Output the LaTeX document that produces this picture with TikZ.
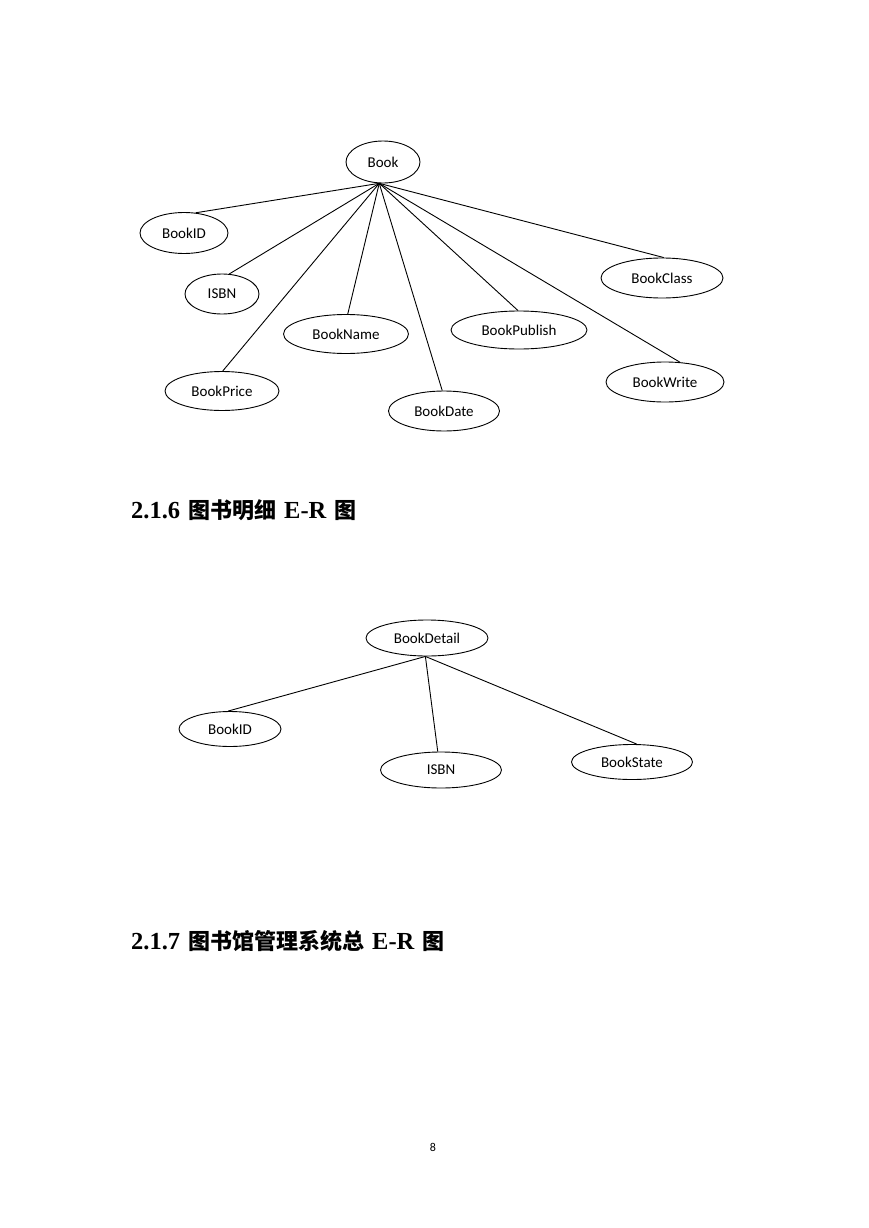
\documentclass[tikz,border=0pt]{standalone}
\usepackage{fontspec}
\setmainfont{Liberation Serif}
\newfontfamily\lbl{Carlito}
\newfontfamily\cjk{Noto Sans CJK SC}
\usetikzlibrary{shapes.geometric}
\newcommand{\cjkpart}[1]{{\cjk\bfseries\fontsize{22}{26}\selectfont #1}}
\newcommand{\gap}{\hspace{8pt}}
\tikzset{
  attr/.style={ellipse, draw, line width=0.9pt, inner sep=0pt, font=\lbl\fontsize{15}{17}\selectfont},
  link/.style={draw, line width=0.9pt},
  heading/.style={anchor=west, inner sep=0pt, font=\fontsize{24.5}{28}\selectfont\bfseries}
}
\begin{document}
\begin{tikzpicture}[x=1pt,y=-1pt]
\useasboundingbox (0,0) rectangle (869,1228);
\fill[white] (0,0) rectangle (869,1228);
% First diagram: Book
\node[attr, minimum width=74, minimum height=42] (book) at (383,162) {Book};
\node[attr, minimum width=88, minimum height=41] (bookid) at (184,233) {BookID};
\node[attr, minimum width=74, minimum height=40] (isbn) at (222,294) {ISBN};
\node[attr, minimum width=125, minimum height=39] (bookname) at (346,334) {BookName};
\node[attr, minimum width=114, minimum height=39] (bookprice) at (222,391) {BookPrice};
\node[attr, minimum width=111, minimum height=40] (bookdate) at (444,411) {BookDate};
\node[attr, minimum width=136, minimum height=38] (bookpublish) at (519,330) {BookPublish};
\node[attr, minimum width=118, minimum height=40] (bookwrite) at (665,382) {BookWrite};
\node[attr, minimum width=122, minimum height=40] (bookclass) at (662,278) {BookClass};
\coordinate (hub) at (book.260);
\draw[link] (hub) -- (bookid.60);
\draw[link] (hub) -- (isbn.70);
\draw[link] (hub) -- (bookname.85);
\draw[link] (hub) -- (bookprice.88);
\draw[link] (hub) -- (bookdate.95);
\draw[link] (hub) -- (bookpublish.93);
\draw[link] (hub) -- (bookwrite.53);
\draw[link] (hub) -- (bookclass.85);
% Heading 2.1.6
\node[heading] (h216) at (131,510) {2.1.6\gap\cjkpart{图书明细}\gap E-R\gap\cjkpart{图}};
% Second diagram: BookDetail
\node[attr, minimum width=122, minimum height=36] (detail) at (427,638) {BookDetail};
\node[attr, minimum width=102, minimum height=35] (did) at (230,729) {BookID};
\node[attr, minimum width=121, minimum height=36] (disbn) at (441,770) {ISBN};
\node[attr, minimum width=121, minimum height=35] (dstate) at (632,762) {BookState};
\coordinate (hub2) at (detail.265);
\draw[link] (hub2) -- (did.96);
\draw[link] (hub2) -- (disbn.100);
\draw[link] (hub2) -- (dstate.75);
% Heading 2.1.7
\node[heading] (h217) at (131,941) {2.1.7\gap\cjkpart{图书馆管理系统总}\gap E-R\gap\cjkpart{图}};
% Page number
\node[font=\lbl\fontsize{12}{14}\selectfont, inner sep=0pt] (pagenum) at (433,1147) {8};
\end{tikzpicture}
\end{document}
